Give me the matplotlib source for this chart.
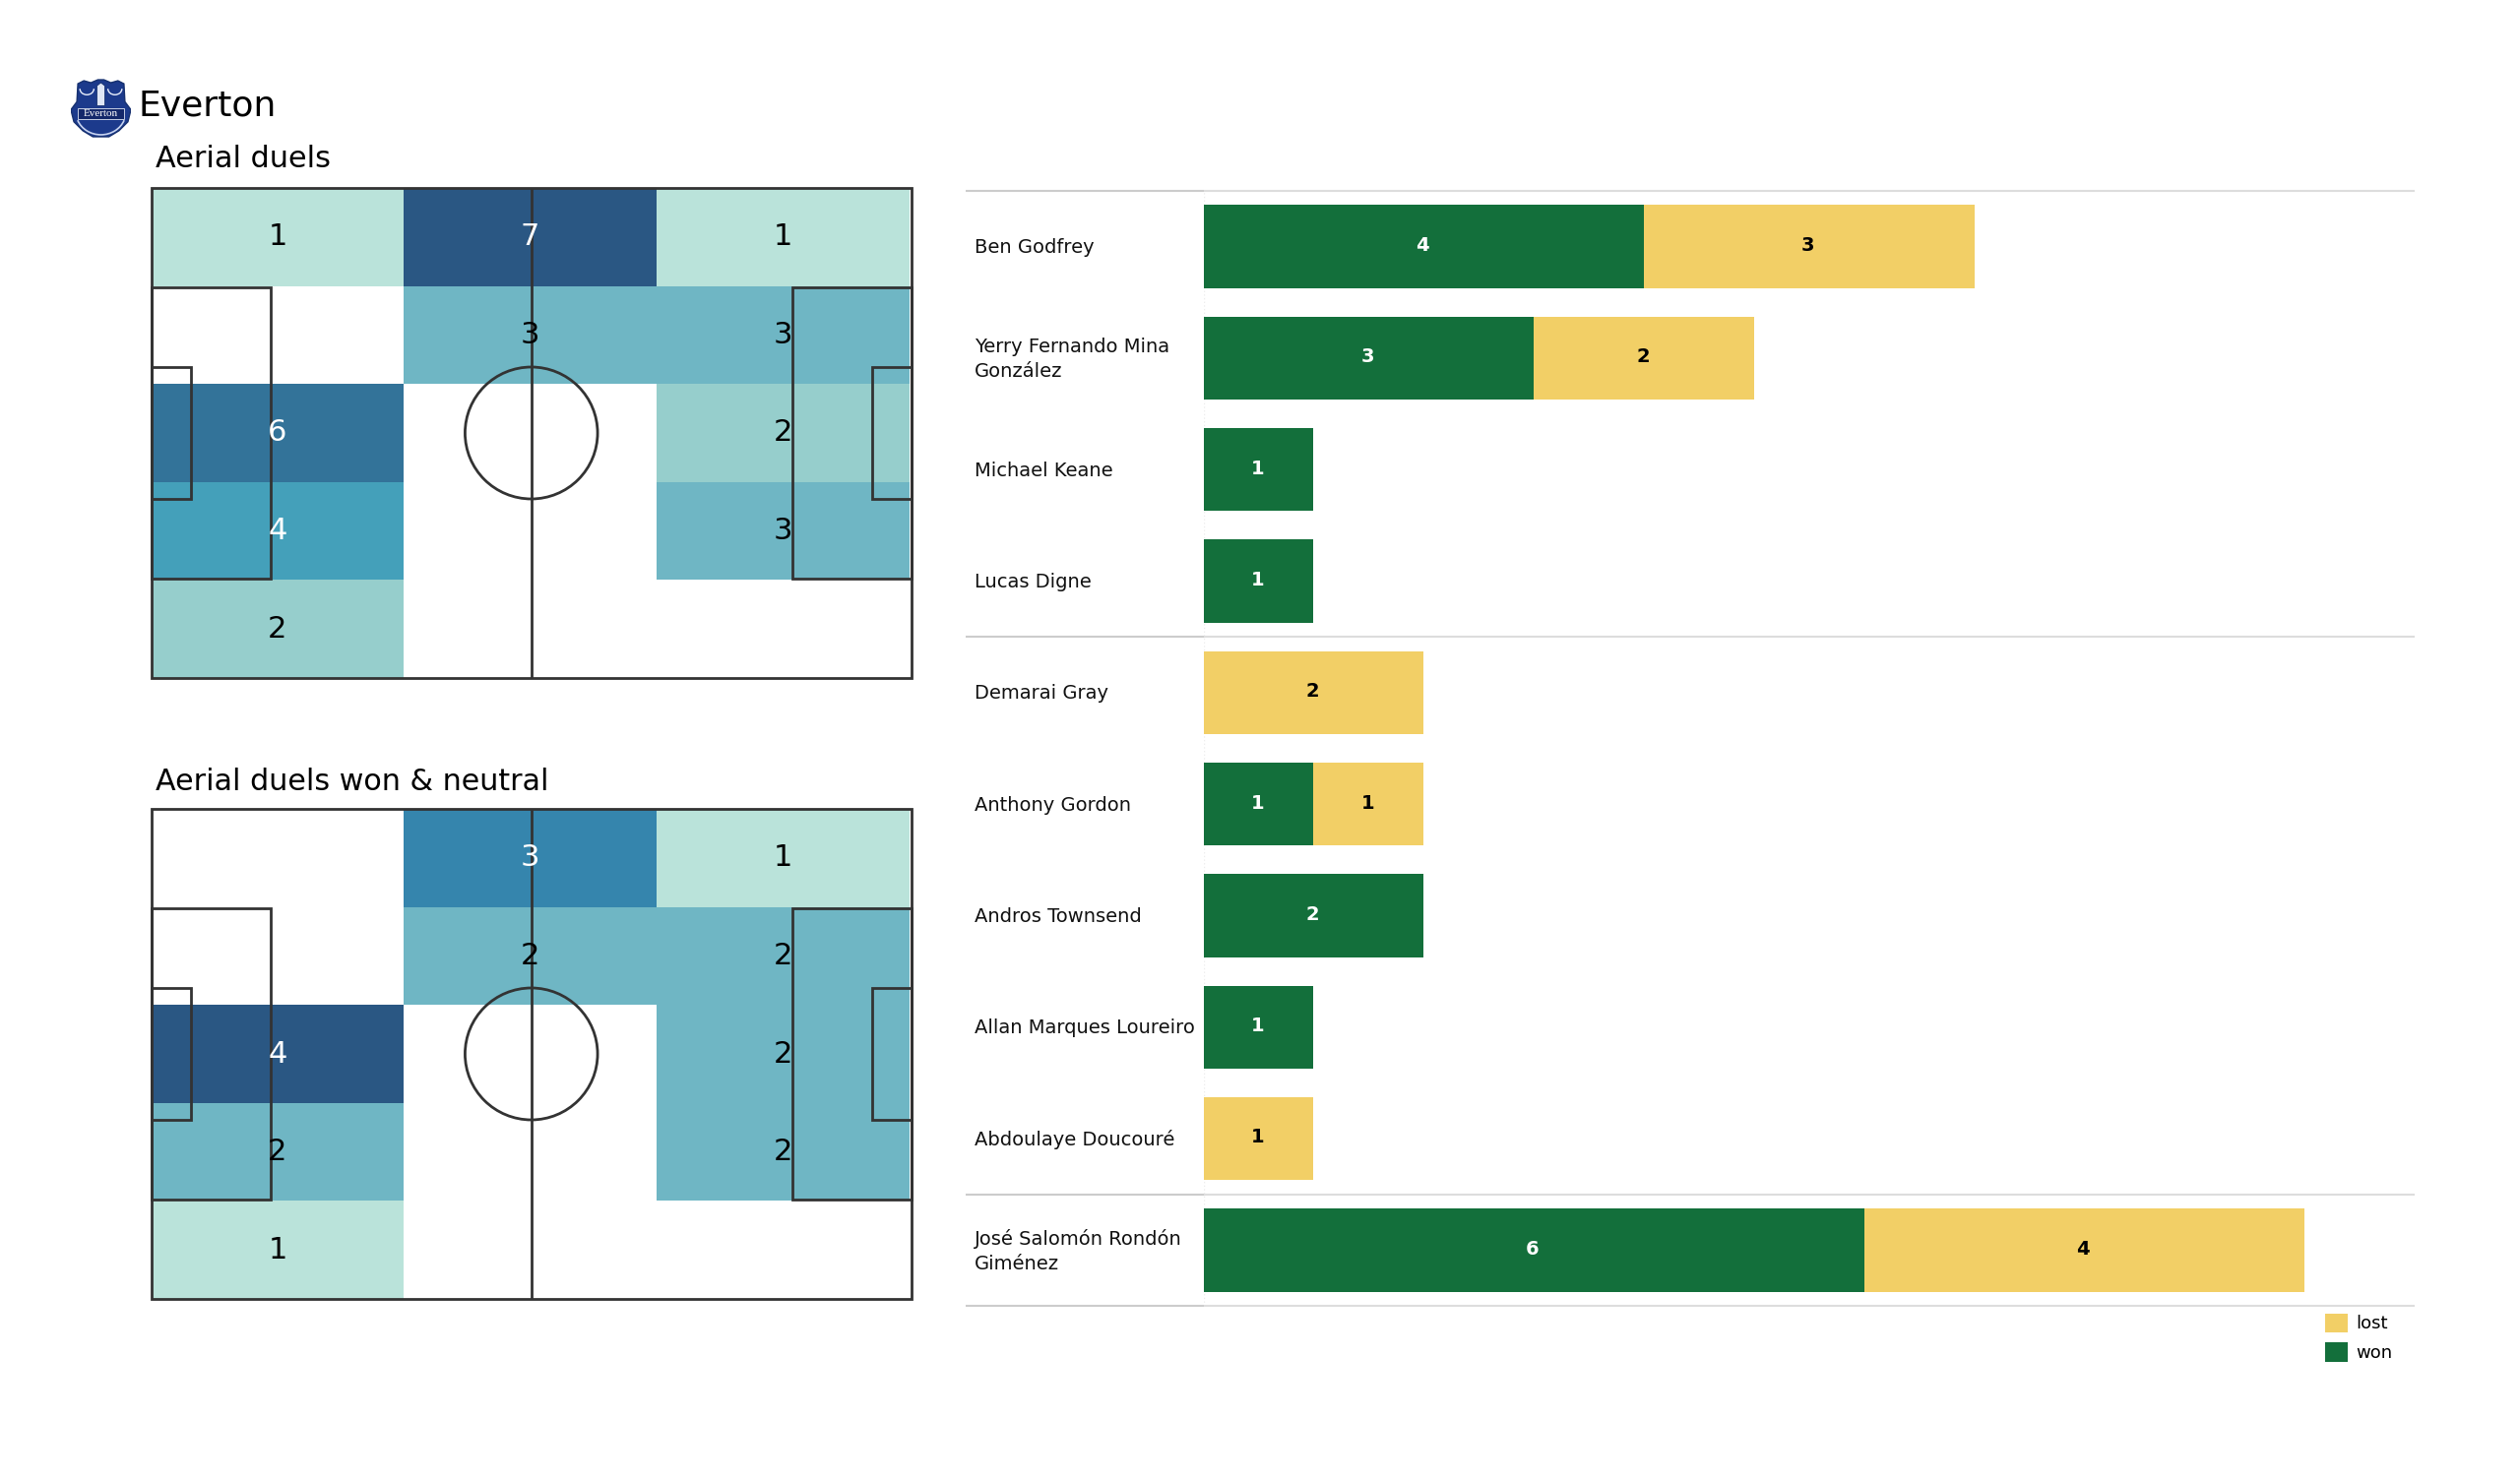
import matplotlib
matplotlib.use('Agg')
import matplotlib.pyplot as plt
from matplotlib.colors import BoundaryNorm, LinearSegmentedColormap, ListedColormap
from matplotlib.patches import Arc, Circle, Polygon, Rectangle
import numpy as np

# zone counts, rows run top to bottom of the pitch
zones_all = [[1, 7, 1],
             [0, 3, 3],
             [6, 0, 2],
             [4, 0, 3],
             [2, 0, 0]]
zones_won = [[0, 3, 1],
             [0, 2, 2],
             [4, 0, 2],
             [2, 0, 2],
             [1, 0, 0]]

players = ['Ben Godfrey', 'Yerry Fernando Mina\nGonzález', 'Michael Keane',
           'Lucas Digne', 'Demarai Gray', 'Anthony Gordon', 'Andros Townsend',
           'Allan Marques Loureiro', 'Abdoulaye Doucouré',
           'José Salomón Rondón\nGiménez']
won = [4, 3, 1, 1, 0, 1, 2, 1, 0, 6]
lost = [3, 2, 0, 0, 2, 1, 0, 0, 1, 4]

WON_COL = '#136f3b'
LOST_COL = '#f2cf66'
LINE_COL = '#333333'

W, H = 2560, 1504


def px_axes(fig, x0, y0, x1, y1):
    # axes from pixel box, y counted from the top
    return fig.add_axes([x0 / W, 1 - y1 / H, (x1 - x0) / W, (y1 - y0) / H])


def draw_pitch(ax, counts, levels, colors, white_from):
    # the colour grid stops just short of the right touchline
    x_edges = np.linspace(0, 104.7, 4)
    y_edges = np.linspace(0, 68, 6)
    cmap = ListedColormap(['#ffffff'] + colors)
    bounds = [-0.5, 0.5] + [v + 0.5 for v in levels]
    norm = BoundaryNorm(bounds, cmap.N)
    ax.pcolormesh(x_edges, y_edges, np.array(counts), cmap=cmap, norm=norm)

    for r, row in enumerate(counts):
        for c, v in enumerate(row):
            if v > 0:
                ax.text((x_edges[c] + x_edges[c + 1]) / 2, (y_edges[r] + y_edges[r + 1]) / 2, str(v),
                        ha='center', va='center', fontsize=22,
                        color='white' if v >= white_from else 'black', zorder=3)

    kw = dict(fill=False, ec=LINE_COL, lw=2.0, zorder=2, clip_on=False)
    ax.add_patch(Rectangle((0, 0), 105, 68, **kw))
    ax.plot([52.5, 52.5], [0, 68], color=LINE_COL, lw=2.0, zorder=2)
    ax.add_patch(Circle((52.5, 34), 9.15, **kw))
    for x, w in [(0, 16.5), (105 - 16.5, 16.5), (0, 5.5), (105 - 5.5, 5.5)]:
        h = 40.3 if w > 10 else 18.3
        ax.add_patch(Rectangle((x, 34 - h / 2), w, h, **kw))
    ax.set_xlim(0, 105)
    ax.set_ylim(68, 0)
    ax.axis('off')


def draw_crest(ax):
    # rough stand-in for the club badge
    ax.set_xlim(0, 60)
    ax.set_ylim(60, 0)
    ax.axis('off')
    shield = Polygon([(7, 6), (13, 3), (20, 5), (27, 2), (33, 2), (40, 5), (47, 3), (53, 6), (54, 24), (60, 32),
                      (57, 44), (48, 53), (38, 59), (22, 59), (12, 53), (3, 44), (0, 32), (6, 24)],
                     fc='#1c3a8c', ec='#16306f', lw=1)
    ax.add_patch(shield)
    shade = LinearSegmentedColormap.from_list('crest', ['#16306f', '#2d55b5', '#6f93df', '#2d55b5'])
    im = ax.imshow(np.linspace(0, 1, 50).reshape(-1, 1), extent=(6, 54, 30, 4), cmap=shade, aspect='auto')
    im.set_clip_path(shield)
    ax.set_xlim(0, 60)
    ax.set_ylim(60, 0)
    for cx in (16, 44):
        ax.add_patch(Arc((cx, 11), 14, 12, theta1=0, theta2=180, ec='#e8eefb', lw=1))
    ax.add_patch(Polygon([(26, 8), (30, 5), (34, 8), (34, 28), (26, 28)], fc='#dfe6f5', ec='#16306f', lw=0.6))
    ax.add_patch(Rectangle((7, 30), 46, 11, fc='#14286a', ec='#dfe6f5', lw=0.6))
    ax.text(30, 35.5, 'Everton', ha='center', va='center', fontsize=8, color='white', family='Liberation Serif')
    ax.add_patch(Arc((30, 34), 50, 46, theta1=20, theta2=160, ec='#c8d4f0', lw=1.2))


fig = plt.figure(figsize=(W / 100, H / 100), dpi=100, facecolor='white')

draw_crest(px_axes(fig, 72, 79, 133, 140))
fig.text(140 / W, 1 - 107 / H, 'Everton', fontsize=26, ha='left', va='center')
fig.text(158 / W, 1 - 161 / H, 'Aerial duels', fontsize=21.8, ha='left', va='center')
fig.text(158 / W, 1 - 794 / H, 'Aerial duels won & neutral', fontsize=21.7, ha='left', va='center')

draw_pitch(px_axes(fig, 153.5, 191, 926, 689), zones_all, [1, 2, 3, 4, 6, 7],
           ['#bae3da', '#96cecc', '#6fb6c4', '#44a0ba', '#337399', '#2a5783'], 4)
draw_pitch(px_axes(fig, 153.5, 822, 926, 1320), zones_won, [1, 2, 3, 4],
           ['#bae3da', '#6fb6c4', '#3585ad', '#2a5783'], 3)

# player bars
ax = px_axes(fig, 1222.5, 194, 2453, 1327)
y = np.arange(len(players))
won_a = np.array(won)
lost_a = np.array(lost)
ax.barh(y, won_a, height=0.745, color=WON_COL, label='won')
ax.barh(y, lost_a, height=0.745, left=won_a, color=LOST_COL, label='lost')
for i in y:
    if won[i] > 0:
        ax.text(won[i] / 2 - 0.01, i - 0.01, str(won[i]), ha='center', va='center', fontsize=14, fontweight='bold', color='white')
    if lost[i] > 0:
        ax.text(won[i] + lost[i] / 2 - 0.01, i - 0.01, str(lost[i]), ha='center', va='center', fontsize=14, fontweight='bold', color='black')
    ax.text(-2.08, i + 0.01, players[i], ha='left', va='center', fontsize=14, color='#111111', linespacing=1.45)
ax.set_xlim(0, 11)
ax.set_ylim(9.5, -0.5)
ax.hlines([-0.5, 3.5, 8.5, 9.5], -2.16, 0, color='#cccccc', lw=1.5, clip_on=False)
ax.hlines([-0.5, 3.5, 8.5, 9.5], 0, 11, color='#dddddd', lw=1.5, clip_on=False)
ax.axvline(0, color='#eeeeee', lw=1, ls=':', zorder=0)
for s in ax.spines.values():
    s.set_visible(False)
ax.set_xticks([])
ax.set_yticks([])

handles, labels = ax.get_legend_handles_labels()
fig.legend(handles[::-1], labels[::-1], loc='upper left', bbox_to_anchor=(2348 / W, 1 - 1321 / H),
           frameon=False, fontsize=13, handlelength=1.3, handleheight=1.3, handletextpad=0.45,
           labelspacing=0.55, borderpad=0.25)

plt.savefig('out.png', dpi=100)
